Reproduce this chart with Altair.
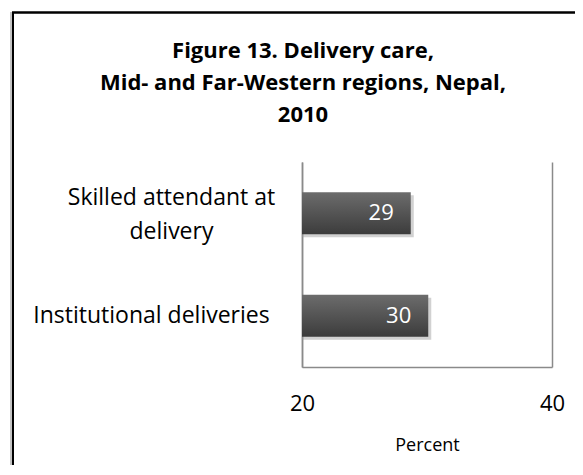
import altair as alt
import pandas as pd

categories = ["Skilled attendant at delivery", "Institutional deliveries"]
values = [28.7, 30.1]
value_labels = ["29", "30"]

title_lines = ["Figure 13. Delivery care,", "Mid- and Far-Western regions, Nepal,", "2010"]
x_ticks = [20, 40]

df = pd.DataFrame({"category": categories, "value": values, "label": value_labels})

FONT = "Open Sans"

y_enc = alt.Y(
    "category:N",
    sort=categories,
    scale=alt.Scale(paddingInner=0.59, paddingOuter=0.295),
    axis=alt.Axis(
        title=None,
        labelExpr="datum.value == 'Skilled attendant at delivery' ? ['Skilled attendant at', 'delivery'] : datum.label",
        labelFont=FONT,
        labelFontSize=23,
        labelColor="black",
        labelAlign="center",
        labelBaseline="middle",
        labelLineHeight=34,
        labelPadding={"condition": {"test": "datum.value == 'Institutional deliveries'", "value": 151}, "value": 131},
        labelOffset={"condition": {"test": "datum.value == 'Skilled attendant at delivery'", "value": -15}, "value": 0},
        labelLimit=0,
        ticks=False,
        grid=False,
        domainColor="#8a8a8a",
        domainWidth=1.5,
    ),
)

x_enc = alt.X(
    "value:Q",
    scale=alt.Scale(domain=[20, 40], nice=False, zero=False),
    axis=alt.Axis(
        values=x_ticks,
        title="Percent",
        grid=True,
        gridColor="#8a8a8a",
        gridWidth=1.5,
        domainColor="#8a8a8a",
        domainWidth=1.5,
        ticks=False,
        labelFlush=False,
        labelFont=FONT,
        labelFontSize=22,
        labelColor="black",
        labelPadding=26,
        titleFont=FONT,
        titleFontSize=18,
        titleFontWeight="normal",
        titleColor="black",
        titleY=83,
        titleBaseline="alphabetic",
    ),
)

base = alt.Chart(df)

shadow = base.mark_bar(color="#9a9a9a", opacity=0.45, xOffset=3, yOffset=3, clip=True).encode(x=x_enc, y=y_enc)

grad = alt.LinearGradient(
    gradient="linear",
    stops=[
        alt.GradientStop(color="#6c6c6c", offset=0),
        alt.GradientStop(color="#3c3c3c", offset=1),
    ],
    x1=0, x2=0, y1=0, y2=1,
)
bars = base.mark_bar(color=grad, clip=True).encode(x=x_enc, y=y_enc)

text = base.mark_text(align="right", baseline="middle", dx=-17, color="white", font=FONT, fontSize=22).encode(
    x=alt.X("value:Q"), y=alt.Y("category:N", sort=categories), text="label:N"
)

# outer frame of the figure (decoration)
frame_top = base.mark_rule(color="black", strokeWidth=2).encode(
    x=alt.value(-290), x2=alt.value(300), y=alt.value(-149.5)
)
frame_left = base.mark_rule(color="black", strokeWidth=2).encode(
    x=alt.value(-289), y=alt.value(-150), y2=alt.value(330)
)
frame_left_shadow = base.mark_rule(color="#b0b0b0", strokeWidth=1).encode(
    x=alt.value(-291), y=alt.value(-150), y2=alt.value(330)
)

chart = (
    alt.layer(frame_left_shadow, frame_top, frame_left, shadow, bars, text)
    .properties(
        width=250,
        height=205,
        background="white",
        title=alt.TitleParams(
            text=title_lines,
            font=FONT,
            fontSize=22,
            fontWeight="bold",
            color="black",
            lineHeight=32,
            anchor="middle",
            frame="group",
            dx=-124,
            dy=116,
            offset=0,
        ),
        padding={"left": 294, "top": 154, "right": 23, "bottom": 98},
        autosize=alt.AutoSizeParams(type="none"),
    )
    .configure_view(strokeWidth=0, stroke="transparent")
)

chart.save("out.html", embed_options={"renderer": "svg", "actions": False})
